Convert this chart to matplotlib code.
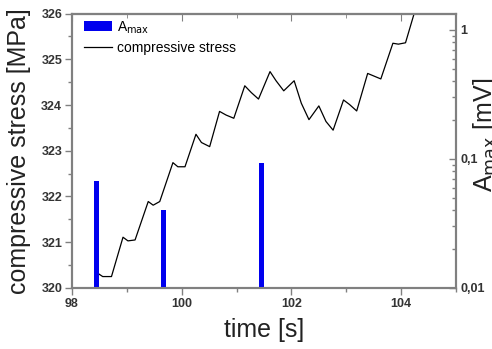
import matplotlib
matplotlib.use('Agg')
import matplotlib.pyplot as plt
from matplotlib.ticker import MultipleLocator, FixedLocator, LogLocator, NullFormatter

plt.rcParams['font.family'] = ['Liberation Sans', 'DejaVu Sans']

# compressive stress trace
time_s = [98.46, 98.56, 98.72, 98.93, 99.02, 99.15, 99.39, 99.48, 99.60,
          99.84, 99.93, 100.06, 100.26, 100.36, 100.51, 100.69, 100.81, 100.95,
          101.15, 101.27, 101.40, 101.61, 101.72, 101.86, 102.05, 102.18, 102.32,
          102.50, 102.63, 102.76, 102.95, 103.06, 103.19, 103.39, 103.51, 103.63,
          103.85, 103.95, 104.08, 104.24]
stress = [320.33, 320.25, 320.25, 321.11, 321.03, 321.05, 321.89, 321.81, 321.89,
          322.74, 322.65, 322.65, 323.36, 323.18, 323.09, 323.86, 323.78, 323.71,
          324.42, 324.27, 324.13, 324.73, 324.53, 324.31, 324.53, 324.04, 323.68,
          323.98, 323.64, 323.45, 324.11, 324.01, 323.87, 324.69, 324.63, 324.57,
          325.35, 325.33, 325.36, 326.01]

# A_max events
event_t = [98.45, 99.66, 101.45]
event_a = [0.0675, 0.040, 0.093]

spine_c = '#808080'
tick_c = '#333333'

fig = plt.figure(figsize=(4.92, 3.49), dpi=100)
ax = fig.add_axes([0.1463, 0.1748, 0.7805, 0.7865])
ax2 = ax.twinx()

line, = ax.plot(time_s, stress, color='black', lw=0.9, label='compressive stress')
bars = ax2.bar(event_t, event_a, width=0.09, color='#0000ee', label='A$_{\\mathrm{max}}$')

ax.set_xlim(98, 105)
ax.set_ylim(320, 326)
ax2.set_yscale('log')
ax2.set_ylim(0.01, 1.34)

ax.xaxis.set_major_locator(MultipleLocator(2))
ax.xaxis.set_minor_locator(MultipleLocator(1))
ax.yaxis.set_major_locator(MultipleLocator(1))
ax.yaxis.set_minor_locator(MultipleLocator(0.5))
ax.tick_params(which='both', direction='out', colors=spine_c, labelcolor=tick_c,
               labelsize=9, pad=2, top=False, right=False)
ax.tick_params(which='major', length=5, width=1)
ax.tick_params(which='minor', length=3, width=1)
for lab in ax.get_xticklabels() + ax.get_yticklabels():
    lab.set_fontweight('bold')

# top axis ticks pointing in
sec = ax.secondary_xaxis('top')
sec.xaxis.set_major_locator(MultipleLocator(2))
sec.xaxis.set_minor_locator(MultipleLocator(1))
sec.tick_params(which='both', direction='in', colors=spine_c, labeltop=False)
sec.tick_params(which='major', length=5)
sec.tick_params(which='minor', length=3)
sec.spines['top'].set_color(spine_c)
sec.spines['top'].set_linewidth(1.5)

ax2.yaxis.set_major_locator(FixedLocator([0.01, 0.1, 1]))
ax2.set_yticklabels(['0,01', '0,1', '1'])
ax2.yaxis.set_minor_locator(LogLocator(base=10, subs=[2, 3, 4, 5, 6, 7, 8, 9]))
ax2.yaxis.set_minor_formatter(NullFormatter())
ax2.tick_params(which='both', direction='in', colors=spine_c, labelcolor=tick_c,
                labelsize=9, pad=3)
ax2.tick_params(which='major', length=5, width=1)
ax2.tick_params(which='minor', length=3, width=1)
for lab in ax2.get_yticklabels():
    lab.set_fontweight('bold')

for a in (ax, ax2):
    for s in a.spines.values():
        s.set_color(spine_c)
        s.set_linewidth(1.5)

ax.set_xlabel('time [s]', fontsize=18, color='#222222')
ax.xaxis.set_label_coords(0.5, -0.11)
ax.set_ylabel('compressive stress [MPa]', fontsize=18, color='#222222')
ax.yaxis.set_label_coords(-0.108, 0.5)
ax2.set_ylabel('A$_{\\mathrm{max}}$ [mV]', fontsize=18, color='#222222')
ax2.yaxis.set_label_coords(1.04, 0.557)

ax2.legend([bars, line], ['A$_{\\mathrm{max}}$', 'compressive stress'], loc='upper left',
           bbox_to_anchor=(0.0, 1.025), frameon=False, fontsize=10,
           handletextpad=0.35, labelspacing=0.4, borderaxespad=0.5)

fig.savefig('out.png', dpi=100)
